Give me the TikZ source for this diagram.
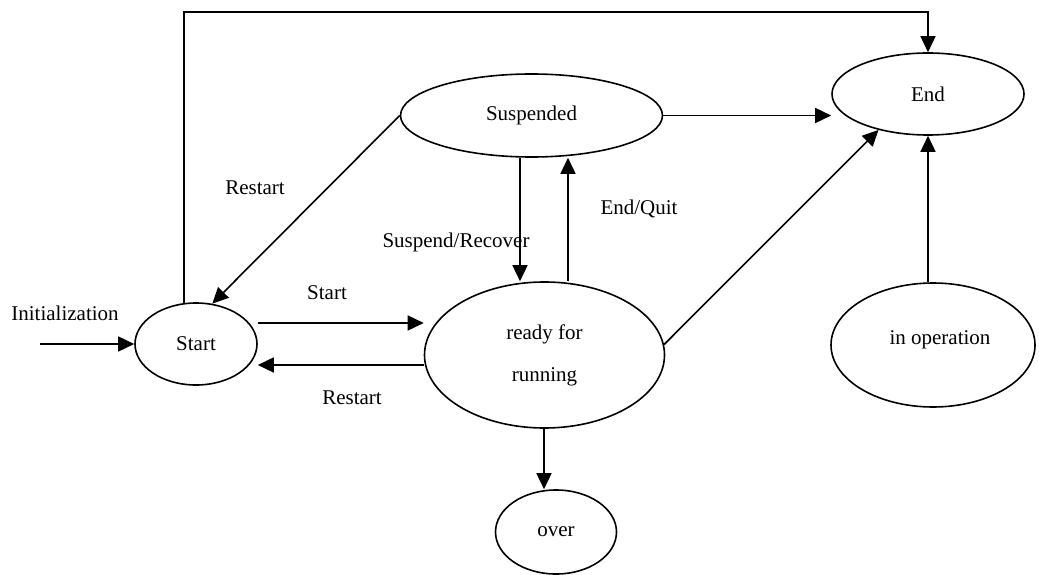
\documentclass[tikz,border=0pt]{standalone}
\usepackage{fontspec}
\setmainfont{Liberation Serif}
\usetikzlibrary{shapes.geometric,arrows.meta,calc}
\begin{document}
\begin{tikzpicture}[x=1pt,y=-1pt,
  state/.style={draw,ellipse,line width=1.6pt,inner sep=0pt,align=center,
    font=\fontsize{21}{42}\selectfont},
  lbl/.style={font=\fontsize{21}{24}\selectfont,inner sep=0pt},
  arr/.style={line width=1.6pt,-{Triangle[length=16pt,width=15pt]}},
  ln/.style={line width=1.6pt}]
\useasboundingbox (0,0) rectangle (1039,575);
% states
\node[state,minimum width=122pt,minimum height=82pt] (Start) at (196,344) {Start};
\node[state,minimum width=240pt,minimum height=146pt] (ready) at (544.5,355) {ready for\\running};
\node[state,minimum width=262pt,minimum height=83pt] (Susp) at (531.5,115.5) {Suspended};
\node[state,minimum width=192pt,minimum height=82pt] (End) at (928,94) {End};
\node[state,minimum width=204pt,minimum height=124pt] (inop) at (933,345) {\hspace*{14pt}\raisebox{15pt}{in operation}};
\node[state,minimum width=121pt,minimum height=84pt] (over) at (556,532) {over};
% labels
\node[lbl] (lInit) at (65,313) {Initialization};
\node[lbl] (lRestart1) at (255,188) {Restart};
\node[lbl] (lSusp) at (456,242) {Suspend/Recover};
\node[lbl] (lStart) at (327,293) {Start};
\node[lbl] (lEndQuit) at (639,209) {End/Quit};
\node[lbl] (lRestart2) at (352,398) {Restart};
% connectors
\coordinate (initsrc) at (40,344);
\coordinate (topc) at (500,12);
\draw[arr] (initsrc) -- (Start.west);
\draw[arr] (Start.106) |- (topc) -| (End.north);
\draw[arr] (Susp.west) -- (Start.68);
\draw[arr] (Start.east |- 0,323) -- (ready.west |- 0,323);
\draw[arr] (ready.west |- 0,365) -- (Start.east |- 0,365);
\draw[arr] (Susp.south -| 520,0) -- (ready.north -| 520,0);
\draw[arr] (ready.north -| 568,0) -- (Susp.south -| 568,0);
\draw[arr] (Susp.east) -- (End.west |- Susp.east);
\draw[arr] (ready.5) -- (End.216);
\draw[arr] (ready.south -| 544,0) -- (over.north -| 544,0);
\draw[arr] (End.south |- inop.north) -- (End.south);
\end{tikzpicture}
\end{document}
